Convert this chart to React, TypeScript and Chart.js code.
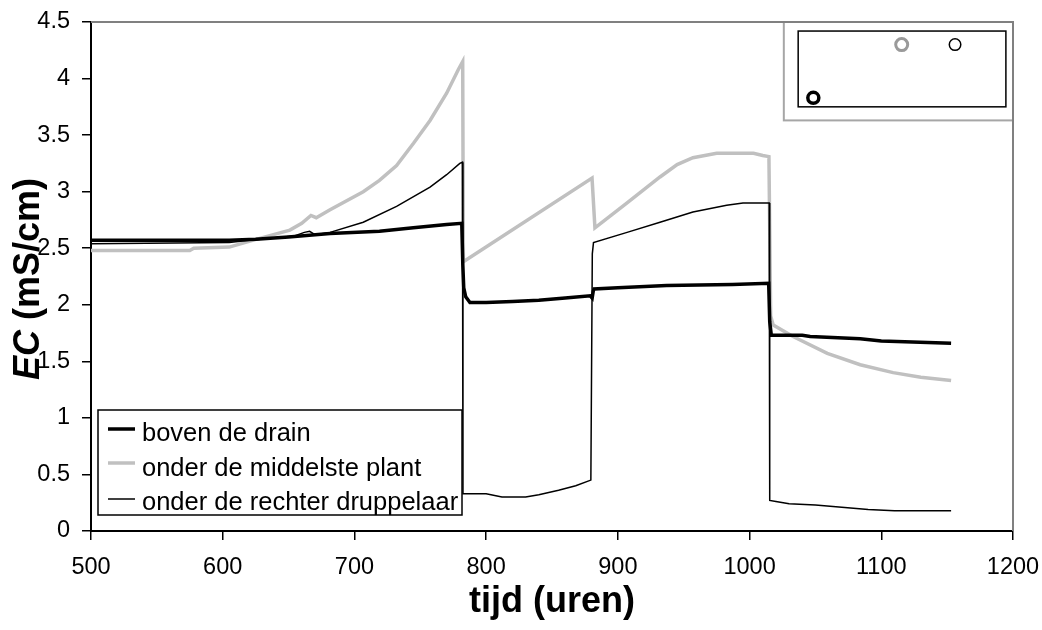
import React, { useEffect, useRef } from "react";
import { Chart, registerables } from "chart.js";

Chart.register(...registerables);

// ---- data (hours, EC in mS/cm) ----
const drainHours = [500, 605, 625, 650, 681.5, 719, 744.7, 770, 781.5, 782.3, 783, 784.5, 787.7, 800, 820, 840, 860, 879, 880.5, 881.3, 882, 900, 937, 987, 1014.5, 1015.3, 1016.5, 1040, 1046, 1084, 1100, 1153];
const drainEC = [2.57, 2.57, 2.58, 2.60, 2.63, 2.65, 2.68, 2.71, 2.72, 2.35, 2.15, 2.07, 2.02, 2.02, 2.03, 2.04, 2.06, 2.08, 2.06, 2.12, 2.14, 2.15, 2.17, 2.18, 2.19, 1.85, 1.73, 1.73, 1.72, 1.70, 1.68, 1.66];

const middleHours = [500, 575, 578, 605, 626, 651, 660, 667, 671, 681.5, 706.7, 719, 732, 745, 757.4, 770, 778.9, 782.2, 782.7, 880.4, 882.6, 907, 932, 945, 957, 975, 1003, 1010, 1014.7, 1016, 1018, 1033, 1059, 1084, 1109, 1130, 1153];
const middleEC = [2.48, 2.48, 2.50, 2.51, 2.58, 2.66, 2.72, 2.79, 2.77, 2.84, 3.00, 3.10, 3.23, 3.43, 3.63, 3.87, 4.08, 4.15, 2.38, 3.12, 2.68, 2.90, 3.13, 3.24, 3.30, 3.34, 3.34, 3.32, 3.31, 1.90, 1.82, 1.72, 1.57, 1.47, 1.40, 1.36, 1.33];

const dripperHours = [500, 605, 620, 640, 655, 662, 666, 670, 681.5, 706.7, 732, 757.4, 770, 780, 782, 782.4, 790, 800, 812, 830, 840, 855, 868, 879.5, 880.6, 881.5, 907, 932, 957, 982.6, 995, 1014.9, 1015.3, 1020, 1030, 1050, 1070, 1090, 1110, 1153];
const dripperEC = [2.54, 2.55, 2.57, 2.59, 2.61, 2.64, 2.65, 2.62, 2.64, 2.73, 2.87, 3.04, 3.15, 3.25, 3.26, 0.33, 0.33, 0.33, 0.30, 0.30, 0.32, 0.36, 0.40, 0.45, 2.45, 2.55, 2.64, 2.73, 2.82, 2.88, 2.90, 2.90, 0.27, 0.26, 0.24, 0.23, 0.21, 0.19, 0.18, 0.18];

const seriesNames = ["boven de drain", "onder de middelste plant", "onder de rechter druppelaar"];

// axes
const xRange = [500, 1200];
const xStep = 100;
const yRange = [0, 4.5];
const yStep = 0.5;
const xTitle = "tijd (uren)";
const yTitleItalic = "EC";
const yTitleRest = " (mS/cm)";

// inset (stray legend box) in data units
const insetMarkerX = [1115.5, 1156, 1048.4];
const insetMarkerY = [4.3, 4.3, 3.83];
const insetOuter = [1026, 1200, 3.63, 4.5];
const insetInner = [1036.9, 1194.6, 3.75, 4.42];

const FONT = "'Liberation Sans', Arial, Helvetica, sans-serif";
const GRAY = "#c0c0c0";

const toPts = (xs: number[], ys: number[]) => xs.map((x, i) => ({ x, y: ys[i] }));

const decorPlugin = {
  id: "decor",
  beforeDatasetsDraw(chart: any) {
    const { ctx, chartArea: a, scales } = chart;
    const x = scales.x, y = scales.y;
    ctx.save();
    // outer gray inset box
    const ox1 = x.getPixelForValue(insetOuter[0]);
    const ox2 = x.getPixelForValue(insetOuter[1]);
    const oy1 = y.getPixelForValue(insetOuter[3]);
    const oy2 = y.getPixelForValue(insetOuter[2]);
    ctx.strokeStyle = "#a6a6a6";
    ctx.lineWidth = 2;
    ctx.strokeRect(ox1, oy1, ox2 - ox1, oy2 - oy1);
    // inner black box
    const ix1 = x.getPixelForValue(insetInner[0]);
    const ix2 = x.getPixelForValue(insetInner[1]);
    const iy1 = y.getPixelForValue(insetInner[3]);
    const iy2 = y.getPixelForValue(insetInner[2]);
    ctx.fillStyle = "#ffffff";
    ctx.fillRect(ix1, iy1, ix2 - ix1, iy2 - iy1);
    ctx.strokeStyle = "#000000";
    ctx.lineWidth = 1.5;
    ctx.strokeRect(ix1, iy1, ix2 - ix1, iy2 - iy1);
    // plot frame top / right (gray)
    ctx.strokeStyle = "#808080";
    ctx.lineWidth = 2;
    ctx.beginPath();
    ctx.moveTo(a.left, a.top);
    ctx.lineTo(a.right, a.top);
    ctx.lineTo(a.right, a.bottom);
    ctx.stroke();
    ctx.restore();
  },
  afterDatasetsDraw(chart: any) {
    const { ctx, chartArea: a } = chart;
    ctx.save();
    const bx = a.left + 7;
    const by = a.bottom - 121;
    const bw = 364;
    const bh = 105;
    ctx.fillStyle = "#ffffff";
    ctx.fillRect(bx, by, bw, bh);
    ctx.strokeStyle = "#000000";
    ctx.lineWidth = 1.5;
    ctx.strokeRect(bx, by, bw, bh);
    const styles = [
      { c: "#000000", w: 3.5 },
      { c: GRAY, w: 3.5 },
      { c: "#000000", w: 1.5 },
    ];
    const lineY = [19, 53, 89];
    const textY = [31, 66, 100];
    ctx.font = `25.5px ${FONT}`;
    ctx.textBaseline = "alphabetic";
    ctx.textAlign = "left";
    seriesNames.forEach((name, i) => {
      ctx.strokeStyle = styles[i].c;
      ctx.lineWidth = styles[i].w;
      ctx.beginPath();
      ctx.moveTo(bx + 10, by + lineY[i]);
      ctx.lineTo(bx + 37, by + lineY[i]);
      ctx.stroke();
      ctx.fillStyle = "#000000";
      ctx.fillText(name, bx + 44, by + textY[i]);
    });
    ctx.restore();
  },
  afterDraw(chart: any) {
    const { ctx, chartArea: a } = chart;
    ctx.save();
    ctx.fillStyle = "#000000";
    // x title
    ctx.font = `bold 36px ${FONT}`;
    ctx.textAlign = "center";
    ctx.textBaseline = "alphabetic";
    ctx.fillText(xTitle, (a.left + a.right) / 2, 612);
    // y title (rotated, mixed italic)
    ctx.translate(38.5, (a.top + a.bottom) / 2 + 2.5);
    ctx.rotate(-Math.PI / 2);
    ctx.textAlign = "left";
    ctx.font = `italic bold 36px ${FONT}`;
    const w1 = ctx.measureText(yTitleItalic).width;
    ctx.font = `bold 36px ${FONT}`;
    const w2 = ctx.measureText(yTitleRest).width;
    const start = -(w1 + w2) / 2;
    ctx.font = `italic bold 36px ${FONT}`;
    ctx.fillText(yTitleItalic, start, 0);
    ctx.font = `bold 36px ${FONT}`;
    ctx.fillText(yTitleRest, start + w1, 0);
    ctx.restore();
  },
};

export default function App() {
  const ref = useRef<HTMLCanvasElement | null>(null);
  useEffect(() => {
    if (!ref.current) return;
    const chart = new Chart(ref.current, {
      type: "line",
      data: {
        datasets: [
          {
            label: seriesNames[2],
            data: toPts(dripperHours, dripperEC),
            borderColor: "#000000",
            borderWidth: 1.5,
            pointRadius: 0,
            tension: 0,
            order: 1,
          },
          {
            label: seriesNames[0],
            data: toPts(drainHours, drainEC),
            borderColor: "#000000",
            borderWidth: 3.5,
            pointRadius: 0,
            tension: 0,
            order: 2,
          },
          {
            label: seriesNames[1],
            data: toPts(middleHours, middleEC),
            borderColor: GRAY,
            borderWidth: 3.5,
            pointRadius: 0,
            tension: 0,
            order: 3,
          },
          {
            type: "scatter",
            label: "inset",
            data: toPts(insetMarkerX, insetMarkerY),
            showLine: false,
            pointStyle: "circle",
            pointRadius: [6, 5.75, 5.5],
            pointBorderWidth: [3, 1.5, 3.5],
            pointBorderColor: ["#9a9a9a", "#000000", "#000000"],
            pointBackgroundColor: "rgba(255,255,255,0)",
            order: 0,
          } as any,
        ],
      },
      options: {
        responsive: false,
        animation: false,
        events: [],
        layout: { padding: { left: 0, top: 22, right: 29, bottom: 0 } },
        plugins: { legend: { display: false }, tooltip: { enabled: false } },
        scales: {
          x: {
            type: "linear",
            min: xRange[0],
            max: xRange[1],
            ticks: {
              stepSize: xStep,
              color: "#000000",
              padding: 13,
              font: { family: FONT, size: 23.5 },
              maxRotation: 0,
              callback: (v: any) => String(v),
            },
            grid: {
              drawOnChartArea: false,
              drawTicks: true,
              tickLength: 9,
              color: "#000000",
              lineWidth: 1.5,
            },
            border: { display: true, color: "#000000", width: 2 },
            afterFit: (s: any) => {
              s.height = 99;
              s.paddingLeft = 0;
              s.paddingRight = 0;
            },
          },
          y: {
            type: "linear",
            min: yRange[0],
            max: yRange[1],
            ticks: {
              stepSize: yStep,
              color: "#000000",
              padding: 12,
              font: { family: FONT, size: 23.5 },
              callback: (v: any) => String(v),
            },
            grid: {
              drawOnChartArea: false,
              drawTicks: true,
              tickLength: 9,
              color: "#000000",
              lineWidth: 1.5,
            },
            border: { display: true, color: "#000000", width: 2 },
            afterFit: (s: any) => {
              s.width = 91;
              s.paddingTop = 0;
              s.paddingBottom = 0;
            },
          },
        },
      },
      plugins: [decorPlugin],
    });
    return () => chart.destroy();
  }, []);

  return (
    <div style={{ position: "fixed", left: 0, top: 0, width: 1042, height: 630, background: "#ffffff" }}>
      <canvas ref={ref} width={1042} height={630} style={{ display: "block", width: 1042, height: 630 }} />
    </div>
  );
}
